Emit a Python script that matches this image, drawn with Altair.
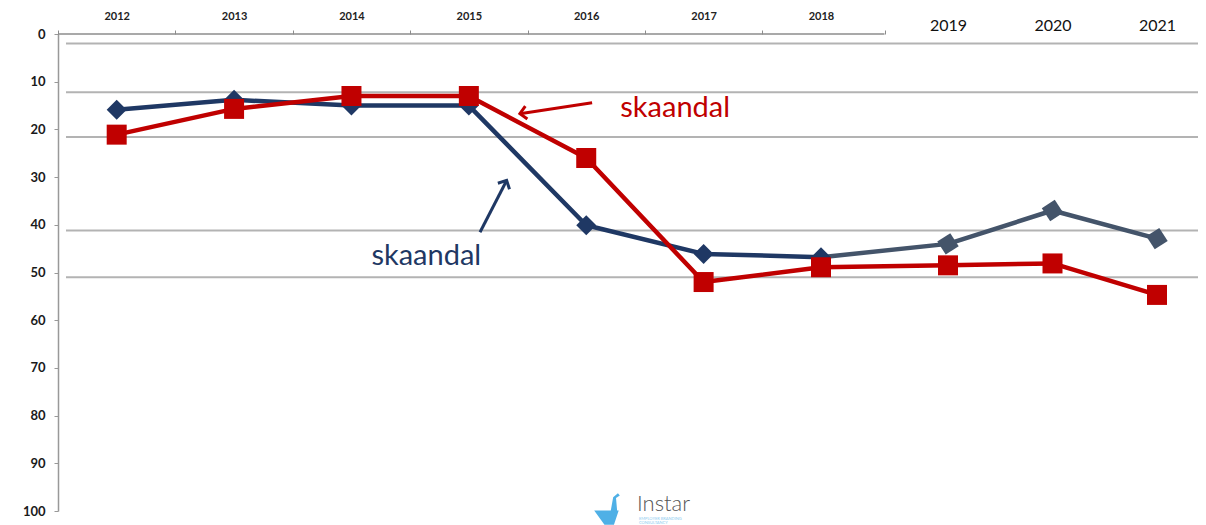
import altair as alt
import pandas as pd

# ---------------- data ----------------
YEARS = [2012, 2013, 2014, 2015, 2016, 2017, 2018, 2019, 2020, 2021]
NAVY = [15.9, 13.8, 15.0, 15.0, 40.1, 46.1, 46.8, 44.0, 37.0, 42.9]
RED = [21.1, 15.7, 13.0, 13.0, 26.0, 52.0, 48.9, 48.5, 48.1, 54.7]
YEARS_SMALL = YEARS[:7]          # labels drawn small/bold (2012-2018)
YEARS_LARGE = YEARS[7:]          # labels drawn large (2019-2021)
Y_TICKS = [0, 10, 20, 30, 40, 50, 60, 70, 80, 90, 100]
GRID_VALUES = [2.0, 12.2, 21.6, 41.2, 51.0]
BOUNDARIES = [YEARS_SMALL[0] - 0.5 + i for i in range(len(YEARS_SMALL) + 1)]

ANN_TEXT = ["skaandal", "skaandal"]
ANN_X = [2016.29, 2014.17]
ANN_Y = [17.4, 48.5]
ANN_SERIES = ["red", "navy"]
ARROW_TAIL_X = [2016.05, 2015.095]
ARROW_TAIL_Y = [14.4, 41.55]
ARROW_HEAD_X = [2015.435, 2015.322]
ARROW_HEAD_Y = [16.7, 30.7]
ARROW_ANGLE = [171, 297]

NAVY_C = "#1f3864"
SLATE_C = "#44546a"
RED_C = "#c00000"
FONT = "Lato"

# ---------------- tables ----------------
rows = []
for yr, v in zip(YEARS, NAVY):
    if yr <= 2018:
        rows.append({"year": yr, "rank": v, "seg": "navy_a"})
    if yr >= 2018:
        rows.append({"year": yr, "rank": v, "seg": "navy_b"})
for yr, v in zip(YEARS, RED):
    rows.append({"year": yr, "rank": v, "seg": "red"})
lines_df = pd.DataFrame(rows)

pts = []
for yr, v in zip(YEARS, NAVY):
    pts.append({"year": yr, "rank": v, "grp": "navy_a" if yr <= 2018 else "navy_b"})
for yr, v in zip(YEARS, RED):
    pts.append({"year": yr, "rank": v, "grp": "red"})
pts_df = pd.DataFrame(pts)

grid_df = pd.DataFrame({"g": GRID_VALUES})
top_df = pd.DataFrame({"x": [BOUNDARIES[0]], "x2": [BOUNDARIES[-1]]})
ann_df = pd.DataFrame({"text": ANN_TEXT, "x": ANN_X, "y": ANN_Y, "s": ANN_SERIES})
arrow_df = pd.DataFrame({
    "tx": ARROW_TAIL_X, "ty": ARROW_TAIL_Y,
    "hx": ARROW_HEAD_X, "hy": ARROW_HEAD_Y,
    "angle": ARROW_ANGLE, "s": ANN_SERIES,
})

W, H = 1140, 477
xs = alt.Scale(domain=[2011.5, 2018, 2019, 2021], range=[0, 763, 890, 1099], nice=False, zero=False)
ys = alt.Scale(domain=[0, 100], reverse=True, nice=False, zero=False)

seg_color = alt.Scale(domain=["navy_a", "navy_b", "red"], range=[NAVY_C, SLATE_C, RED_C])
ann_color = alt.Scale(domain=["red", "navy"], range=[RED_C, SLATE_C])
arrow_color = alt.Scale(domain=["red", "navy"], range=[RED_C, NAVY_C])

# one identical left-axis definition shared by every layer (so the shared axis merges cleanly)
YAX = alt.Axis(
    values=Y_TICKS, title=None, grid=False, orient="left", labelFont=FONT,
    labelFontWeight="bold", labelFontSize=13, labelColor="#1a1a1a", tickSize=4,
    tickColor="#999999", domainColor="#999999", domainWidth=1.5, labelPadding=9,
    labelFlush=False, labelOverlap=False)

# gridlines
grid = alt.Chart(grid_df).mark_rule(color="#b3b3b3", strokeWidth=2).encode(
    y=alt.Y("g:Q", scale=ys, axis=YAX),
    x=alt.value(8), x2=alt.value(W),
)

# top axis line with boundary ticks
top_line = alt.Chart(top_df).mark_rule(color="#8c8c8c", strokeWidth=1.5).encode(
    x=alt.X("x:Q", scale=xs, axis=alt.Axis(
        orient="top", values=BOUNDARIES, labels=False, ticks=True, tickSize=4,
        tickColor="#8c8c8c", tickWidth=1, domain=False, grid=False, title=None)),
    x2="x2:Q",
    y=alt.value(0),
)

navy_lines = alt.Chart(lines_df).transform_filter(alt.datum.seg != "red").mark_line(
    strokeWidth=4.5, strokeJoin="round").encode(
    x=alt.X("year:Q", scale=xs, axis=alt.Axis(
        orient="top", values=YEARS_SMALL, format="d", ticks=False, domain=False, grid=False,
        title=None, labelFont=FONT, labelFontWeight="bold", labelFontSize=11,
        labelColor="#222222", labelPadding=12.5, labelFlush=False)),
    y=alt.Y("rank:Q", scale=ys, axis=YAX),
    color=alt.Color("seg:N", scale=seg_color, legend=None),
    detail="seg:N",
)

navy_pts_a = alt.Chart(pts_df).transform_filter(alt.datum.grp == "navy_a").mark_point(
    filled=True, opacity=1, shape="diamond", size=400, color=NAVY_C).encode(
    x=alt.X("year:Q", scale=xs, axis=None),
    y=alt.Y("rank:Q", scale=ys, axis=YAX),
)
navy_pts_b = alt.Chart(pts_df).transform_filter(alt.datum.grp == "navy_b").mark_point(
    filled=True, opacity=1, shape="diamond", size=480, angle=12, color=SLATE_C).encode(
    x=alt.X("year:Q", scale=xs, axis=None),
    y=alt.Y("rank:Q", scale=ys, axis=YAX),
)

red_line = alt.Chart(lines_df).transform_filter(alt.datum.seg == "red").mark_line(
    strokeWidth=4.5, strokeJoin="round", color=RED_C).encode(
    x=alt.X("year:Q", scale=xs, axis=alt.Axis(
        orient="top", values=YEARS_LARGE, format="d", ticks=False, domain=False, grid=False,
        title=None, labelFont=FONT, labelFontWeight="normal", labelFontSize=16,
        labelColor="#111111", labelPadding=0.5, labelFlush=False)),
    y=alt.Y("rank:Q", scale=ys, axis=YAX),
)
red_pts = alt.Chart(pts_df).transform_filter(alt.datum.grp == "red").mark_point(
    filled=True, opacity=1, shape="square", size=400, color=RED_C).encode(
    x=alt.X("year:Q", scale=xs, axis=None),
    y=alt.Y("rank:Q", scale=ys, axis=YAX),
)

ann = alt.Chart(ann_df).mark_text(font=FONT, fontSize=29, align="left", baseline="alphabetic").encode(
    x=alt.X("x:Q", scale=xs, axis=None),
    y=alt.Y("y:Q", scale=ys, axis=YAX),
    text="text:N",
    color=alt.Color("s:N", scale=ann_color, legend=None),
)

arrow_shafts = alt.Chart(arrow_df).mark_rule(strokeWidth=3).encode(
    x=alt.X("tx:Q", scale=xs, axis=None), x2="hx:Q",
    y=alt.Y("ty:Q", scale=ys, axis=YAX), y2="hy:Q",
    color=alt.Color("s:N", scale=arrow_color, legend=None),
)
arrow_heads = alt.Chart(arrow_df).mark_point(
    shape="M -1 -1 L 0 0 L -1 1", filled=False, opacity=1, strokeWidth=3, size=170,
    strokeJoin="miter").encode(
    x=alt.X("hx:Q", scale=xs, axis=None),
    y=alt.Y("hy:Q", scale=ys, axis=YAX),
    angle=alt.Angle("angle:Q", scale=None),
    color=alt.Color("s:N", scale=arrow_color, legend=None),
)

# logo (decoration, positioned in pixels)
logo_df = pd.DataFrame({"t": ["Instar"], "sub": ["EMPLOYER BRANDING\nCONSULTANCY"]})
swan = alt.Chart(logo_df).mark_point(
    shape="M -1 0.1 L 0.55 0.1 L 0.25 1 L -0.35 1 Z M 0.05 0.1 L 0.2 -0.75 L 0.5 -1 L 0.62 -0.85 L 0.38 -0.7 L 0.45 0.1 Z",
    filled=True, opacity=1, size=1000, color="#4fb0e6").encode(
    x=alt.value(552), y=alt.value(475),
)
logo_text = alt.Chart(logo_df).mark_text(
    font=FONT, fontSize=22, fontWeight=300, color="#555555", align="left", baseline="alphabetic").encode(
    x=alt.value(579), y=alt.value(477), text="t:N",
)
logo_sub = alt.Chart(logo_df).mark_text(
    font=FONT, fontSize=4, lineHeight=4, color="#8fcdf0", align="left", baseline="top",
    lineBreak="\n").encode(
    x=alt.value(581), y=alt.value(483), text="sub:N",
)

chart = alt.layer(
    grid, top_line, navy_lines, navy_pts_a, navy_pts_b, red_line, red_pts,
    arrow_shafts, arrow_heads, ann, swan, logo_text, logo_sub,
).resolve_axis(x="independent").properties(
    width=W, height=H,
    background="white",
    autosize=alt.AutoSizeParams(type="none"),
    padding={"left": 50, "top": 26, "right": 0, "bottom": 14},
).configure_view(stroke=None)

chart.save("out.html", embed_options={"renderer": "svg", "actions": False})
